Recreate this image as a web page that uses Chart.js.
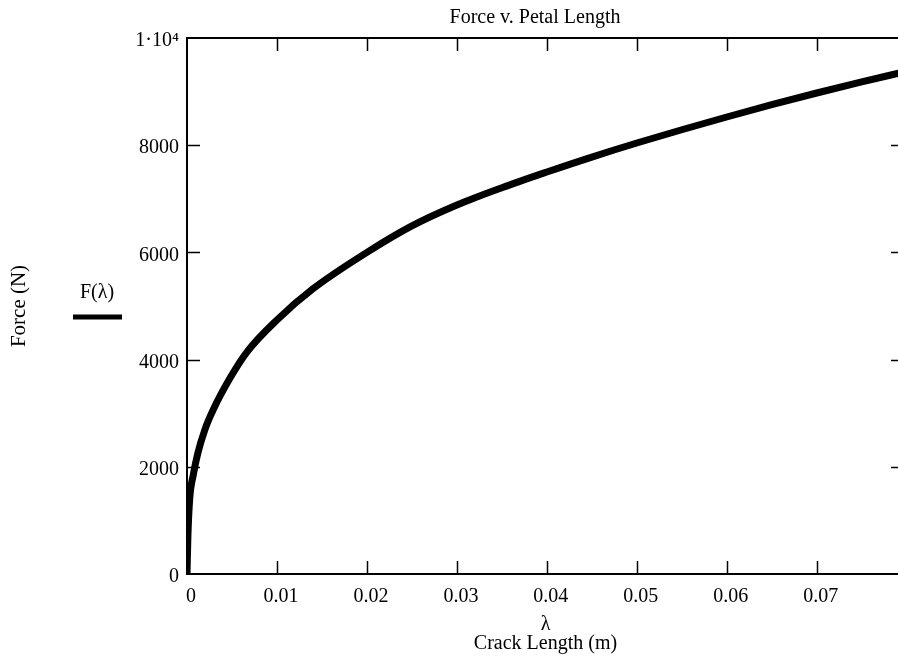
<!DOCTYPE html>
<html>
<head>
<meta charset="utf-8">
<script src="https://cdn.jsdelivr.net/npm/chart.js@4/dist/chart.umd.min.js"></script>
<style>
  html, body { margin: 0; padding: 0; background: #fff; }
  #wrap { width: 898px; height: 665px; overflow: hidden; }
</style>
</head>
<body>
<div id="wrap"><canvas id="force-chart" width="908" height="665"></canvas></div>
<script>
// values
const lambdaVals = [0, 0.0001, 0.0003, 0.0007, 0.0012, 0.002, 0.0029, 0.0048, 0.0067, 0.01, 0.014, 0.02, 0.025, 0.03, 0.035, 0.04, 0.045, 0.05, 0.055, 0.06, 0.065, 0.07, 0.075, 0.0797];
const forceVals = [0, 700, 1400, 1850, 2250, 2700, 3060, 3660, 4150, 4740, 5320, 6000, 6494, 6884, 7207, 7500, 7779, 8041, 8288, 8526, 8756, 8974, 9181, 9367];
const xTicks = [0, 0.01, 0.02, 0.03, 0.04, 0.05, 0.06, 0.07];
const yTicks = [0, 2000, 4000, 6000, 8000, 10000];

const serif = 'Liberation Serif';
const ctx = document.getElementById('force-chart').getContext('2d');

// frame, inward ticks, title and the legend sample
const framePlugin = {
	id: 'frame',
	afterDraw(chart) {
		const { ctx, chartArea: a, scales } = chart;
		ctx.save();
		ctx.strokeStyle = '#000';
		ctx.lineWidth = 2;
		ctx.strokeRect(a.left, a.top, a.right - a.left, a.bottom - a.top);
		ctx.lineWidth = 1.5;
		ctx.beginPath();
		xTicks.slice(1).forEach((v) => {
			const px = Math.round(scales.x.getPixelForValue(v)) + 0.5;
			ctx.moveTo(px, a.bottom); ctx.lineTo(px, a.bottom - 13);
			ctx.moveTo(px, a.top); ctx.lineTo(px, a.top + 13);
		});
		yTicks.slice(1, -1).forEach((v) => {
			const py = Math.round(scales.y.getPixelForValue(v)) + 0.5;
			ctx.moveTo(a.left, py); ctx.lineTo(a.left + 13, py);
			ctx.moveTo(a.right, py); ctx.lineTo(a.right - 13, py);
		});
		ctx.stroke();

		ctx.fillStyle = '#000';
		ctx.textAlign = 'center';
		ctx.textBaseline = 'middle';
		ctx.font = `20px "${serif}"`;
		ctx.fillText('Force v. Petal Length', 535, 18);
		ctx.fillText('F(\u03bb)', 97, 293);
		ctx.lineWidth = 5;
		ctx.beginPath();
		ctx.moveTo(73, 317); ctx.lineTo(122, 317);
		ctx.stroke();
		ctx.restore();
	},
};

const chart = new Chart(ctx, {
	type: 'line',
	data: {
		datasets: [{
			label: 'F(\u03bb)',
			data: lambdaVals.map((x, i) => ({ x, y: forceVals[i] })),
			borderColor: '#000',
			borderWidth: 7,
			pointRadius: 0,
			cubicInterpolationMode: 'monotone',
		}],
	},
	options: {
		responsive: false,
		animation: false,
		layout: { padding: { top: 38, right: 4, left: 0, bottom: 0 } },
		plugins: {
			legend: { display: false },
			tooltip: { enabled: false },
		},
		scales: {
			x: {
				type: 'linear',
				min: 0,
				max: 0.0797,
				afterFit: (s) => { s.height = 91; },
				afterBuildTicks: (s) => { s.ticks = xTicks.map((v) => ({ value: v })); },
				grid: { display: false, drawTicks: false },
				border: { display: false },
				ticks: {
					color: '#000',
					font: { family: serif, size: 20 },
					padding: 11,
					labelOffset: 4,
					maxRotation: 0,
					autoSkip: false,
					callback: (v) => (v === 0 ? '0' : v.toFixed(2)),
				},
				title: {
					display: true,
					text: ['\u03bb', 'Crack Length (m)'],
					color: '#000',
					font: { family: serif, size: 20, lineHeight: 0.95 },
					padding: { top: 0, bottom: 12 },
				},
			},
			y: {
				min: 0,
				max: 10000,
				afterFit: (s) => { s.width = 187; },
				afterBuildTicks: (s) => { s.ticks = yTicks.map((v) => ({ value: v })); },
				grid: { display: false, drawTicks: false },
				border: { display: false },
				ticks: {
					color: '#000',
					font: { family: serif, size: 20 },
					padding: 8,
					labelOffset: 3,
					autoSkip: false,
					callback: (v) => (v === 10000 ? '1\u00b710\u2074' : String(v)),
				},
				title: {
					display: true,
					text: 'Force (N)',
					color: '#000',
					font: { family: serif, size: 21 },
					padding: { top: 7, bottom: 0 },
				},
			},
		},
	},
	plugins: [framePlugin],
});
</script>
</body>
</html>
